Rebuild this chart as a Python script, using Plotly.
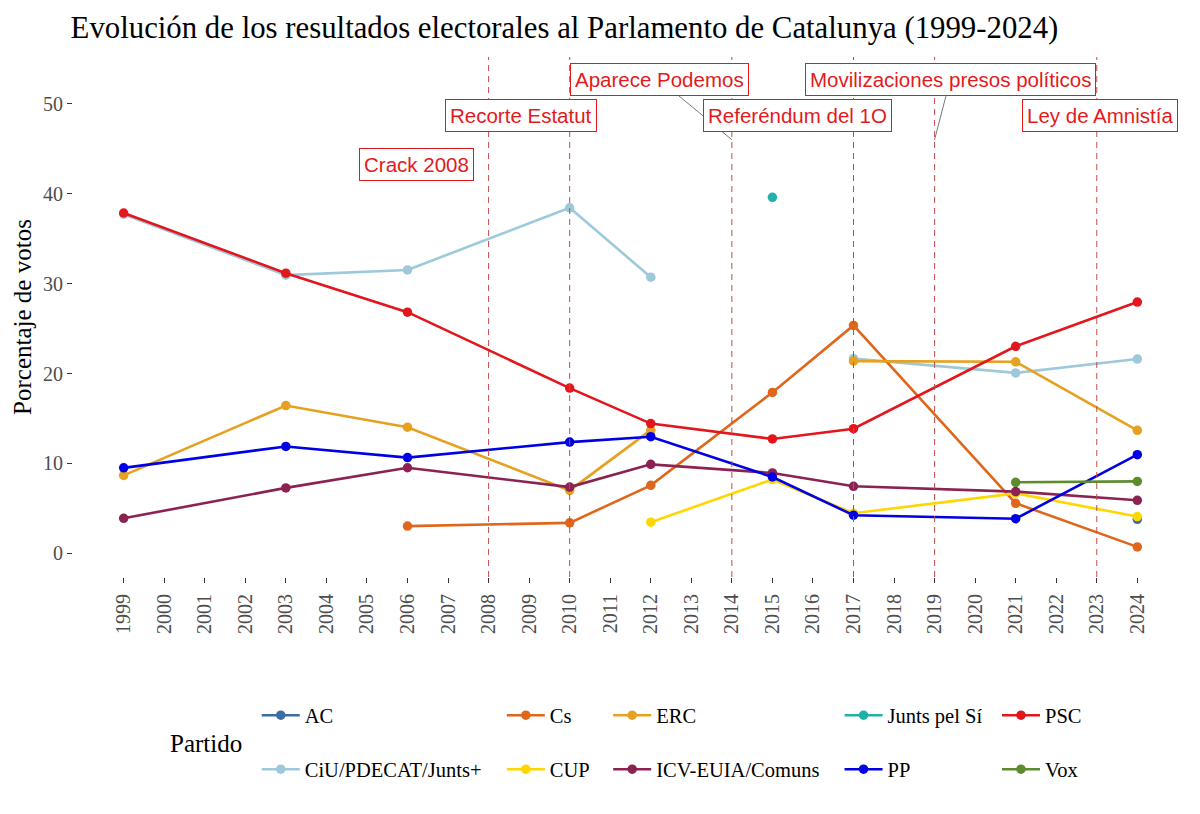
import plotly.graph_objects as go

# Election years and vote share (%) per party
years = [1999, 2003, 2006, 2010, 2012, 2015, 2017, 2021, 2024]

ac = [None, None, None, None, None, None, None, None, 3.78]
ciu = [37.70, 30.94, 31.52, 38.43, 30.71, None, 21.66, 20.07, 21.61]
cs = [None, None, 3.03, 3.39, 7.56, 17.90, 25.35, 5.57, 0.72]
cup = [None, None, None, None, 3.47, 8.21, 4.46, 6.67, 4.09]
erc = [8.67, 16.44, 14.03, 7.00, 13.70, None, 21.38, 21.30, 13.68]
icv = [3.90, 7.28, 9.52, 7.37, 9.90, 8.94, 7.46, 6.87, 5.90]
junts_si = [None, None, None, None, None, 39.59, None, None, None]
pp = [9.51, 11.89, 10.65, 12.37, 12.97, 8.49, 4.24, 3.85, 10.97]
psc = [37.85, 31.16, 26.82, 18.38, 14.43, 12.72, 13.86, 23.03, 27.95]
vox = [None, None, None, None, None, None, None, 7.90, 8.00]

parties = ["AC", "CiU/PDECAT/Junts+", "Cs", "CUP", "ERC", "ICV-EUIA/Comuns",
           "Junts pel Sí", "PP", "PSC", "Vox"]
series = [ac, ciu, cs, cup, erc, icv, junts_si, pp, psc, vox]
colors = ["#3A6EA5", "#9DC9DB", "#E0661C", "#FFD700", "#E5A11F", "#8B2252",
          "#20B2AA", "#0000E6", "#E3161D", "#5E8B2E"]
# which legend column each party goes into
legend_col = ["legend", "legend", "legend2", "legend2", "legend3", "legend3",
              "legend4", "legend4", "legend5", "legend5"]

# Events
event_years = [2008, 2010, 2014, 2017, 2019, 2023]
event_labels = ["Crack 2008", "Recorte Estatut", "Aparece Podemos",
                "Referéndum del 1O", "Movilizaciones presos políticos", "Ley de Amnistía"]
# label placement (x year, y %) and whether a connector is drawn
label_pos = [(2006.23, 43.3), (2008.79, 48.7), (2012.21, 52.68),
             (2015.61, 48.7), (2019.385, 52.68), (2023.08, 48.7)]
label_arrow = [False, False, True, False, True, False]

serif = "Liberation Serif"
sans = "Liberation Sans"
label_red = "#E31A1C"

fig = go.Figure()

for name, vals, col, leg in zip(parties, series, colors, legend_col):
    fig.add_trace(go.Scatter(
        x=years, y=vals, name=name, mode="lines+markers",
        line=dict(color=col, width=2.6),
        marker=dict(color=col, size=9.5),
        legend=leg, legendgroup=name,
    ))

for yr in event_years:
    fig.add_vline(x=yr, line=dict(color="#BF4E48", width=1, dash="6px,5px"))

for txt, (lx, ly), arrow, yr in zip(event_labels, label_pos, label_arrow, event_years):
    if arrow:
        fig.add_annotation(
            x=yr, y=46.0, ax=lx, ay=ly, axref="x", ayref="y",
            text=txt, showarrow=True, arrowhead=0, arrowwidth=0.8,
            arrowcolor="#555555", standoff=0,
            font=dict(family=sans, size=20.5, color=label_red),
            bgcolor="white", bordercolor=label_red, borderwidth=1, borderpad=4,
        )
    else:
        fig.add_annotation(
            x=lx, y=ly, text=txt, showarrow=False,
            font=dict(family=sans, size=20.5, color=label_red),
            bgcolor="white", bordercolor=label_red, borderwidth=1, borderpad=4,
        )

# legend title
fig.add_annotation(
    x=0.0856, y=-0.3195, xref="paper", yref="paper", xanchor="left", yanchor="middle",
    text="Partido", showarrow=False, font=dict(family=serif, size=25, color="black"),
)

leg_common = dict(orientation="v", yanchor="top", y=-0.2277, xanchor="left",
                  tracegroupgap=24.3, itemwidth=38, bgcolor="rgba(0,0,0,0)",
                  font=dict(family=serif, size=20.5, color="black"))
leg_x = [0.1648, 0.3846, 0.480, 0.6875, 0.8287]

fig.update_layout(
    width=1192, height=806,
    margin=dict(l=65, r=12, t=48.5, b=237),
    paper_bgcolor="white", plot_bgcolor="white",
    title=dict(
        text="Evolución de los resultados electorales al Parlamento de Catalunya (1999-2024)",
        font=dict(family=serif, size=30.8, color="black"),
        xref="container", x=0.0525, xanchor="left",
        yref="container", y=0.9764, yanchor="middle",
    ),
    legend=dict(x=leg_x[0], **leg_common),
    legend2=dict(x=leg_x[1], **leg_common),
    legend3=dict(x=leg_x[2], **leg_common),
    legend4=dict(x=leg_x[3], **leg_common),
    legend5=dict(x=leg_x[4], **leg_common),
    xaxis=dict(
        range=[1997.75, 2025.25], tickmode="array",
        tickvals=list(range(1999, 2025)), tickangle=-90,
        showgrid=False, zeroline=False, showline=False,
        ticks="outside", ticklen=5, tickcolor="#333333", ticklabelstandoff=3,
        tickfont=dict(family=serif, size=20, color="#4D4D4D"),
    ),
    yaxis=dict(
        range=[-2.63, 55.2], tickvals=[0, 10, 20, 30, 40, 50],
        showgrid=False, zeroline=False, showline=False,
        ticks="outside", ticklen=5, tickcolor="#333333",
        tickfont=dict(family=serif, size=20, color="#4D4D4D"),
        title=dict(text="Porcentaje de votos", standoff=4,
                   font=dict(family=serif, size=25, color="black")),
    ),
)

fig.write_html("out.html")
